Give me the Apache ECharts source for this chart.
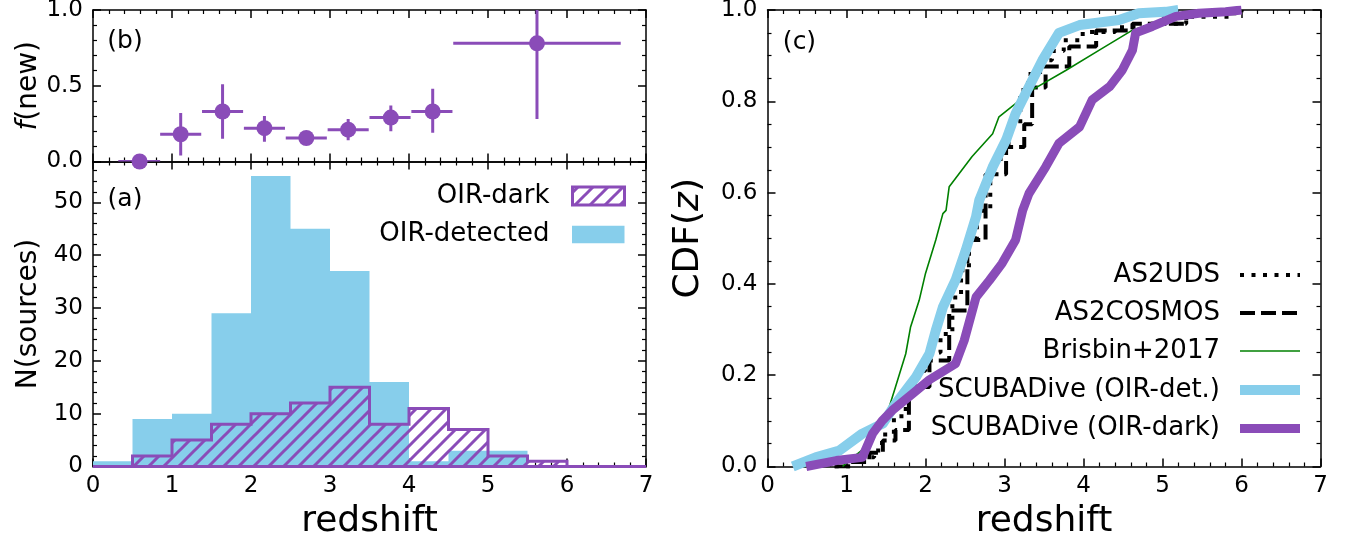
<!DOCTYPE html>
<html>
<head>
<meta charset="utf-8">
<script src="https://cdn.jsdelivr.net/npm/echarts@6/dist/echarts.min.js"></script>
<style>
html,body{margin:0;padding:0;background:#fff;}
#c{width:1351px;height:539px;}
</style>
</head>
<body>
<div id="c"></div>
<script>
// ---------- DATA ----------
// panel (a): histogram
const binEdges = [0, 0.5, 1, 1.5, 2, 2.5, 3, 3.5, 4, 4.5, 5, 5.5, 6, 6.5, 7];
const detCounts = [1, 9, 10, 29, 55, 45, 37, 16, 1, 3, 3, 0, 0, 0];
const darkCounts = [0, 2, 5, 8, 10, 12, 15, 8, 11, 7, 2, 1, 0, 0];

// panel (b): f(new)
const fnewZ   = [0.59, 1.11, 1.64, 2.17, 2.70, 3.23, 3.77, 4.30, 5.62];
const fnewZlo = [0.32, 0.85, 1.38, 1.91, 2.44, 2.97, 3.50, 4.03, 4.56];
const fnewZhi = [0.85, 1.37, 1.90, 2.43, 2.96, 3.49, 4.02, 4.55, 6.68];
const fnewVal = [0.00, 0.18, 0.33, 0.22, 0.155, 0.21, 0.29, 0.33, 0.78];
const fnewLo  = [0.00, 0.04, 0.15, 0.13, 0.12, 0.14, 0.20, 0.19, 0.28];
const fnewHi  = [0.00, 0.32, 0.51, 0.30, 0.19, 0.28, 0.37, 0.48, 1.05];

// panel (c): CDFs
const as2udsZ   = [0.85, 1.05, 1.20, 1.35, 1.45, 1.60, 1.75, 1.90, 2.00, 2.19, 2.34, 2.45, 2.55, 2.65, 2.82, 2.95, 3.05, 3.20, 3.30, 3.45, 3.60, 3.75, 3.99, 4.40, 4.80, 5.30, 5.90, 6.00];
const as2udsCdf = [0.00, 0.01, 0.02, 0.035, 0.07, 0.11, 0.174, 0.21, 0.25, 0.29, 0.37, 0.43, 0.50, 0.56, 0.66, 0.70, 0.75, 0.825, 0.86, 0.89, 0.91, 0.934, 0.952, 0.962, 0.97, 0.985, 0.995, 1.00];

const as2cosZ   = [0.85, 1.05, 1.29, 1.46, 1.62, 1.79, 2.05, 2.30, 2.53, 2.76, 3.02, 3.25, 3.35, 3.52, 3.82, 4.16, 4.62, 5.30, 6.00];
const as2cosCdf = [0.00, 0.01, 0.03, 0.057, 0.08, 0.174, 0.232, 0.342, 0.496, 0.64, 0.70, 0.75, 0.83, 0.876, 0.92, 0.955, 0.97, 0.993, 1.00];

const brisZ   = [0.95, 1.03, 1.24, 1.50, 1.62, 1.75, 1.81, 1.92, 2.00, 2.13, 2.22, 2.26, 2.30, 2.59, 2.85, 2.93, 3.14, 3.35, 3.78, 4.20, 4.62, 5.04, 5.25, 5.67, 6.00];
const brisCdf = [0.00, 0.013, 0.042, 0.108, 0.174, 0.247, 0.305, 0.364, 0.423, 0.496, 0.554, 0.561, 0.613, 0.679, 0.729, 0.766, 0.795, 0.825, 0.868, 0.912, 0.956, 0.978, 0.989, 0.996, 1.00];

const detZ   = [0.32, 0.61, 0.91, 1.20, 1.46, 1.62, 1.88, 2.05, 2.13, 2.22, 2.38, 2.51, 2.64, 2.68, 2.85, 3.02, 3.14, 3.31, 3.48, 3.69, 3.95, 4.45, 4.70, 5.04, 5.20];
const detCdf = [0.00, 0.02, 0.035, 0.072, 0.094, 0.137, 0.196, 0.247, 0.298, 0.349, 0.408, 0.474, 0.547, 0.583, 0.656, 0.715, 0.773, 0.832, 0.89, 0.95, 0.967, 0.978, 0.993, 0.996, 1.00];

const darkZ   = [0.49, 0.87, 1.20, 1.33, 1.45, 1.58, 1.84, 2.05, 2.38, 2.49, 2.64, 2.81, 2.97, 3.14, 3.23, 3.31, 3.52, 3.69, 3.95, 4.11, 4.33, 4.49, 4.62, 4.66, 4.87, 5.17, 5.46, 5.80, 6.00];
const darkCdf = [0.00, 0.013, 0.02, 0.072, 0.10, 0.123, 0.16, 0.19, 0.225, 0.276, 0.371, 0.408, 0.445, 0.496, 0.561, 0.598, 0.656, 0.708, 0.744, 0.803, 0.832, 0.868, 0.912, 0.95, 0.964, 0.986, 0.993, 0.996, 1.00];

const legendC = ['AS2UDS', 'AS2COSMOS', 'Brisbin+2017', 'SCUBADive (OIR-det.)', 'SCUBADive (OIR-dark)'];
const legendA = ['OIR-dark', 'OIR-detected'];

// ---------- STYLE ----------
const PURPLE = '#8a4cb8';
const BLUE = '#87ceeb';
const GREEN = '#008000';
const FONT = 'DejaVu Sans';
const LFONT = '26px "DejaVu Sans"';

function makeHatch(color) {
  const s = 15;
  const c = document.createElement('canvas');
  c.width = s; c.height = s;
  const g = c.getContext('2d');
  g.strokeStyle = color; g.lineWidth = 3;
  g.beginPath();
  g.moveTo(-2, s + 2); g.lineTo(s + 2, -2);
  g.moveTo(-3, 3); g.lineTo(3, -3);
  g.moveTo(s - 3, s + 3); g.lineTo(s + 3, s - 3);
  g.stroke();
  return c;
}
const hatch = { image: makeHatch(PURPLE), repeat: 'repeat' };

const chart = echarts.init(document.getElementById('c'), null, { renderer: 'canvas' });

const lineS = { color: '#000', width: 1.5 };
function xAx(grid, pos, showLabel, name) {
  return {
    type: 'value', gridIndex: grid, position: pos, min: 0, max: 7, interval: 1,
    axisLine: { show: true, onZero: false, lineStyle: lineS },
    axisTick: { show: true, inside: true, length: 8, lineStyle: lineS },
    minorTick: { show: true, splitNumber: 5, length: 4, lineStyle: { color: '#000', width: 1.2 } },
    splitLine: { show: false }, minorSplitLine: { show: false },
    axisLabel: { show: showLabel, color: '#000', fontSize: 23, fontFamily: FONT, margin: 8 },
    name: name || '', nameLocation: 'middle', nameGap: 37, nameMoveOverlap: false,
    nameTextStyle: { color: '#000', fontSize: 36, fontFamily: FONT }
  };
}
function yAx(grid, pos, showLabel, min, max, interval, minorSplit, fmt, name, nameGap, nameSize) {
  return {
    type: 'value', gridIndex: grid, position: pos, min: min, max: max, interval: interval,
    axisLine: { show: true, onZero: false, lineStyle: lineS },
    axisTick: { show: true, inside: true, length: 8, lineStyle: lineS },
    minorTick: { show: true, splitNumber: minorSplit, length: 4, lineStyle: { color: '#000', width: 1.2 } },
    splitLine: { show: false }, minorSplitLine: { show: false },
    axisLabel: { show: showLabel, color: '#000', fontSize: 23, fontFamily: FONT, margin: 10,
      showMaxLabel: Math.abs(max / interval - Math.round(max / interval)) < 1e-9,
      formatter: fmt },
    name: name || '', nameLocation: 'middle', nameGap: nameGap || 0, nameRotate: 90, nameMoveOverlap: false,
    nameTextStyle: { color: '#000', fontSize: nameSize || 28, fontFamily: FONT,
      rich: { i: { fontStyle: 'italic', fontSize: nameSize || 28, fontFamily: FONT, color: '#000' },
              n: { fontSize: nameSize || 28, fontFamily: FONT, color: '#000' } } }
  };
}
const f1 = v => v.toFixed(1);
const f0 = v => (Math.abs(v % 10) < 1e-9 ? String(v) : '');

function histPoints(api, counts) {
  const pts = [api.coord([binEdges[0], 0])];
  for (let i = 0; i < counts.length; i++) {
    pts.push(api.coord([binEdges[i], counts[i]]));
    pts.push(api.coord([binEdges[i + 1], counts[i]]));
  }
  pts.push(api.coord([binEdges[binEdges.length - 1], 0]));
  return pts;
}

const zip = (a, b) => a.map((v, i) => [v, b[i]]);

const option = {
  backgroundColor: '#fff',
  animation: false,
  grid: [
    { left: 93, top: 10, width: 553, height: 151.5, containLabel: false, outerBoundsMode: 'none' },
    { left: 93, top: 161.5, width: 553, height: 305, containLabel: false, outerBoundsMode: 'none' },
    { left: 767.5, top: 10, width: 553, height: 456.5, containLabel: false, outerBoundsMode: 'none' }
  ],
  xAxis: [
    xAx(0, 'bottom', false), xAx(0, 'top', false),
    xAx(1, 'bottom', true, 'redshift'), xAx(1, 'top', false),
    xAx(2, 'bottom', true, 'redshift'), xAx(2, 'top', false)
  ],
  yAxis: [
    yAx(0, 'left', true, 0, 1, 0.5, 5, f1, '{i|f}(new)', 50, 28),
    yAx(0, 'right', false, 0, 1, 0.5, 5, f1),
    yAx(1, 'left', true, 0, 57.75, 10, 5, f0, 'N(sources)', 50, 28),
    yAx(1, 'right', false, 0, 57.75, 10, 5, f0),
    yAx(2, 'left', true, 0, 1, 0.2, 4, f1, '{n|CDF(}{i|z}{n|)}', 61, 36),
    yAx(2, 'right', false, 0, 1, 0.2, 4, f1)
  ],
  series: [
    // panel (a) histograms
    {
      type: 'custom', name: 'OIR-detected', xAxisIndex: 2, yAxisIndex: 2, clip: false, z: 1,
      data: [[0, 0]],
      renderItem: (params, api) => ({
        type: 'polygon', shape: { points: histPoints(api, detCounts) },
        style: { fill: BLUE, stroke: null }
      })
    },
    {
      type: 'custom', name: 'OIR-dark', xAxisIndex: 2, yAxisIndex: 2, clip: false, z: 2,
      data: [[0, 0]],
      renderItem: (params, api) => ({
        type: 'polygon', shape: { points: histPoints(api, darkCounts) },
        style: { fill: hatch, stroke: PURPLE, lineWidth: 3, lineJoin: 'miter' }
      })
    },
    // panel (b) error bars
    {
      type: 'custom', xAxisIndex: 0, yAxisIndex: 0, clip: true, z: 3,
      data: zip(fnewZ, fnewVal),
      renderItem: (params, api) => {
        const i = params.dataIndex;
        const l = api.coord([fnewZlo[i], fnewVal[i]]);
        const r = api.coord([fnewZhi[i], fnewVal[i]]);
        const b = api.coord([fnewZ[i], fnewLo[i]]);
        const t = api.coord([fnewZ[i], fnewHi[i]]);
        return { type: 'group', children: [
          { type: 'line', shape: { x1: l[0], y1: l[1], x2: r[0], y2: r[1] }, style: { stroke: PURPLE, lineWidth: 3 } },
          { type: 'line', shape: { x1: b[0], y1: b[1], x2: t[0], y2: t[1] }, style: { stroke: PURPLE, lineWidth: 3 } }
        ]};
      }
    },
    {
      type: 'scatter', xAxisIndex: 0, yAxisIndex: 0, clip: true, z: 4,
      symbol: 'circle', symbolSize: 16, itemStyle: { color: PURPLE, opacity: 1 },
      data: zip(fnewZ, fnewVal)
    },
    // panel (c) CDFs
    {
      type: 'line', name: 'AS2UDS', xAxisIndex: 4, yAxisIndex: 4, step: 'end', symbol: 'none', z: 3,
      lineStyle: { color: '#000', width: 4, type: [4, 7.5], cap: 'butt' },
      data: zip(as2udsZ, as2udsCdf)
    },
    {
      type: 'line', name: 'AS2COSMOS', xAxisIndex: 4, yAxisIndex: 4, step: 'end', symbol: 'none', z: 3,
      lineStyle: { color: '#000', width: 4, type: [15, 6], cap: 'butt' },
      data: zip(as2cosZ, as2cosCdf)
    },
    {
      type: 'line', name: 'Brisbin+2017', xAxisIndex: 4, yAxisIndex: 4, symbol: 'none', z: 4,
      lineStyle: { color: GREEN, width: 1.6 },
      data: zip(brisZ, brisCdf)
    },
    {
      type: 'line', name: 'SCUBADive (OIR-det.)', xAxisIndex: 4, yAxisIndex: 4, symbol: 'none', z: 5,
      lineStyle: { color: BLUE, width: 10, join: 'round', cap: 'butt' },
      data: zip(detZ, detCdf)
    },
    {
      type: 'line', name: 'SCUBADive (OIR-dark)', xAxisIndex: 4, yAxisIndex: 4, symbol: 'none', z: 6,
      lineStyle: { color: PURPLE, width: 9, join: 'round', cap: 'butt' },
      data: zip(darkZ, darkCdf)
    }
  ],
  graphic: [
    // panel labels
    { type: 'text', x: 125, y: 41, style: { text: '(b)', font: '25px "DejaVu Sans"', fill: '#000', align: 'center', verticalAlign: 'middle' } },
    { type: 'text', x: 125, y: 199, style: { text: '(a)', font: '25px "DejaVu Sans"', fill: '#000', align: 'center', verticalAlign: 'middle' } },
    { type: 'text', x: 799.5, y: 42, style: { text: '(c)', font: '25px "DejaVu Sans"', fill: '#000', align: 'center', verticalAlign: 'middle' } },
    // legend panel (a)
    { type: 'text', x: 549.5, y: 196, style: { text: legendA[0], font: LFONT, fill: '#000', align: 'right', verticalAlign: 'middle' } },
    { type: 'rect', shape: { x: 572.5, y: 187, width: 52, height: 18 }, style: { fill: hatch, stroke: PURPLE, lineWidth: 3 } },
    { type: 'text', x: 549.5, y: 234, style: { text: legendA[1], font: LFONT, fill: '#000', align: 'right', verticalAlign: 'middle' } },
    { type: 'rect', shape: { x: 572, y: 225.7, width: 52.5, height: 17.6 }, style: { fill: BLUE } },
    // legend panel (c)
    { type: 'text', x: 1220, y: 275, style: { text: legendC[0], font: LFONT, fill: '#000', align: 'right', verticalAlign: 'middle' } },
    { type: 'line', shape: { x1: 1240, y1: 275, x2: 1300, y2: 275 }, style: { stroke: '#000', lineWidth: 4, lineDash: [4, 7.5] } },
    { type: 'text', x: 1220, y: 313, style: { text: legendC[1], font: LFONT, fill: '#000', align: 'right', verticalAlign: 'middle' } },
    { type: 'line', shape: { x1: 1240, y1: 313, x2: 1300, y2: 313 }, style: { stroke: '#000', lineWidth: 4, lineDash: [15, 6] } },
    { type: 'text', x: 1220, y: 351, style: { text: legendC[2], font: LFONT, fill: '#000', align: 'right', verticalAlign: 'middle' } },
    { type: 'line', shape: { x1: 1240, y1: 351, x2: 1300, y2: 351 }, style: { stroke: GREEN, lineWidth: 1.6 } },
    { type: 'text', x: 1220, y: 390, style: { text: legendC[3], font: LFONT, fill: '#000', align: 'right', verticalAlign: 'middle' } },
    { type: 'line', shape: { x1: 1240, y1: 390, x2: 1300, y2: 390 }, style: { stroke: BLUE, lineWidth: 10 } },
    { type: 'text', x: 1220, y: 428.5, style: { text: legendC[4], font: LFONT, fill: '#000', align: 'right', verticalAlign: 'middle' } },
    { type: 'line', shape: { x1: 1240, y1: 428.5, x2: 1300, y2: 428.5 }, style: { stroke: PURPLE, lineWidth: 9 } }
  ]
};
chart.setOption(option);
</script>
</body>
</html>
